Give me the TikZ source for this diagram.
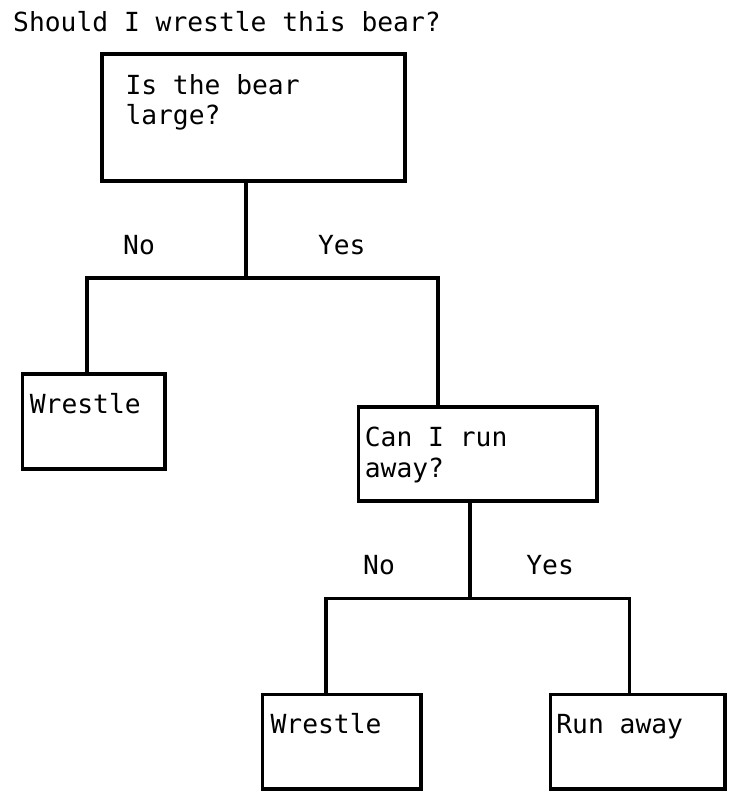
\documentclass[tikz,border=0pt]{standalone}
\usepackage{fontspec}
\setmainfont{DejaVu Sans Mono}
\begin{document}
\begin{tikzpicture}[x=1pt,y=-1pt,
  box/.style={draw,line width=3.6pt,rectangle,inner sep=0pt,outer sep=0pt},
  txt/.style={inner sep=0pt,anchor=base west,font=\fontsize{26.3}{30.6}\selectfont},
  conn/.style={line width=3.6pt,line join=miter}]
\useasboundingbox (0,0) rectangle (734,798);
% title
\node[txt] (title) at (13,31) {Should I wrestle this bear?};
% boxes
\node[box,minimum width=303.4pt,minimum height=127.4pt] (q1) at (253.5,117.5) {};
\node[box,minimum width=142.5pt,minimum height=95.2pt] (w1) at (93.75,421.4) {};
\node[box,minimum width=238.5pt,minimum height=94.2pt] (q2) at (477.75,453.9) {};
\node[box,minimum width=158.5pt,minimum height=94.5pt] (w2) at (341.75,741.75) {};
\node[box,minimum width=174.5pt,minimum height=94.5pt] (ra) at (637.75,741.75) {};
% box texts
\node[txt] (q1t) at (125.3,94) {\vtop{\hbox{Is the bear}\hbox{large?}}};
\node[txt] (w1t) at (29.7,413.3) {Wrestle};
\node[txt] (q2t) at (364.7,446.7) {\vtop{\hbox{Can I run}\hbox{away?}}};
\node[txt] (w2t) at (270.4,733.3) {Wrestle};
\node[txt] (rat) at (556.2,733.3) {Run away};
% branch labels
\node[txt] (no1) at (123,254) {No};
\node[txt] (yes1) at (317.8,254) {Yes};
\node[txt] (no2) at (363,574) {No};
\node[txt] (yes2) at (526.2,574) {Yes};
% connectors
\coordinate (j1) at (246,277.7);
\coordinate (l1) at (86.7,277.7);
\coordinate (r1) at (437.7,277.7);
\coordinate (j2) at (470,598.3);
\coordinate (l2) at (326,598.3);
\coordinate (r2) at (629.3,598.3);
\draw[conn] (j1 |- q1.south) -- (j1);
\draw[conn] (l1 |- w1.north) -- (l1) -- (r1) -- (r1 |- q2.north);
\draw[conn] (j2 |- q2.south) -- (j2);
\draw[conn] (l2 |- w2.north) -- (l2) -- (r2) -- (r2 |- ra.north);
\end{tikzpicture}
\end{document}
